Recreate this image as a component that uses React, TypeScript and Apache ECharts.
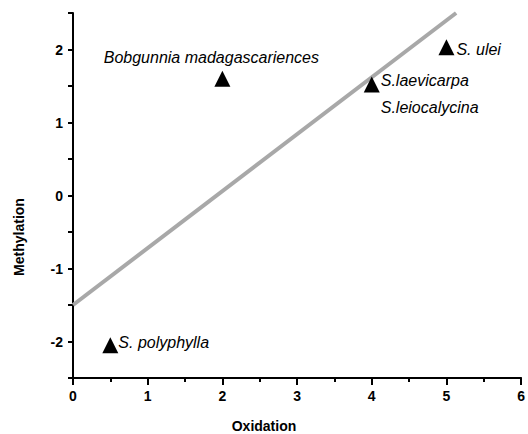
import React, { useEffect, useRef } from "react";
import * as echarts from "echarts";

const speciesNames = [
  "S. polyphylla",
  "Bobgunnia madagascariences",
  "S.laevicarpa\nS.leiocalycina",
  "S. ulei",
];
const oxidation = [0.5, 2.0, 4.0, 5.0];
const methylation = [-2.05, 1.6, 1.52, 2.03];

const fitX = [0, 5.13];
const fitY = [-1.5, 2.5];

const xTicks = [0, 1, 2, 3, 4, 5, 6];
const yTickLabels = [-2, -1, 0, 1, 2];

const FONT = "'Liberation Sans', Arial, sans-serif";

export default function App() {
  const ref = useRef<HTMLDivElement>(null);
  useEffect(() => {
    if (!ref.current) return;
    const chart = echarts.init(ref.current, null, { renderer: "svg" });
    const labelCfg = [
      { position: "right", distance: 0, offset: [0, -3] },
      { position: "inside", offset: [-11, -21] },
      { position: "right", distance: 1, offset: [0, 9], lineHeight: 27 },
      { position: "right", distance: 2, offset: [0, 2] },
    ];
    chart.setOption({
      animation: false,
      backgroundColor: "#fff",
      grid: { left: 73, right: 6, top: 13, bottom: 56, containLabel: false },
      xAxis: {
        type: "value",
        min: xTicks[0],
        max: xTicks[xTicks.length - 1],
        interval: 1,
        axisLine: { onZero: false, lineStyle: { color: "#000", width: 2 } },
        axisTick: { length: 7, lineStyle: { color: "#000", width: 2 } },
        minorTick: { show: true, splitNumber: 2, length: 4, lineStyle: { color: "#000", width: 2 } },
        splitLine: { show: false },
        axisLabel: { color: "#000", fontWeight: "bold", fontSize: 14, fontFamily: FONT, margin: 11 },
      },
      yAxis: {
        type: "value",
        min: -2.5,
        max: 2.5,
        interval: 0.5,
        axisLine: { onZero: false, lineStyle: { color: "#000", width: 2 } },
        axisTick: { length: 5, lineStyle: { color: "#000", width: 2 } },
        splitLine: { show: false },
        axisLabel: {
          color: "#000",
          fontWeight: "bold",
          fontSize: 14,
          fontFamily: FONT,
          margin: 10,
          formatter: (v: number) => (yTickLabels.includes(Math.round(v * 100) / 100) ? String(v) : ""),
        },
      },
      graphic: [
        {
          type: "text",
          x: 264,
          y: 426,
          style: {
            text: "Oxidation",
            font: `bold 14px ${FONT}`,
            fill: "#000",
            align: "center",
            verticalAlign: "middle",
          },
        },
        {
          type: "text",
          x: 19,
          y: 237,
          rotation: Math.PI / 2,
          style: {
            text: "Methylation",
            font: `bold 14px ${FONT}`,
            fill: "#000",
            align: "center",
            verticalAlign: "middle",
          },
        },
      ],
      series: [
        {
          type: "line",
          data: fitX.map((x, i) => [x, fitY[i]]),
          symbol: "none",
          lineStyle: { color: "#a8a8a8", width: 4 },
          silent: true,
          z: 1,
        },
        {
          type: "scatter",
          symbol: "triangle",
          symbolSize: 16,
          itemStyle: { color: "#000", opacity: 1 },
          z: 2,
          data: oxidation.map((x, i) => ({
            value: [x, methylation[i]],
            label: {
              show: true,
              formatter: speciesNames[i],
              color: "#000",
              fontStyle: "italic",
              fontSize: 16,
              fontFamily: FONT,
              ...labelCfg[i],
            },
          })),
        },
      ],
    });
    return () => chart.dispose();
  }, []);
  return <div ref={ref} style={{ width: 528, height: 434, position: "absolute", left: 0, top: 0 }} />;
}
